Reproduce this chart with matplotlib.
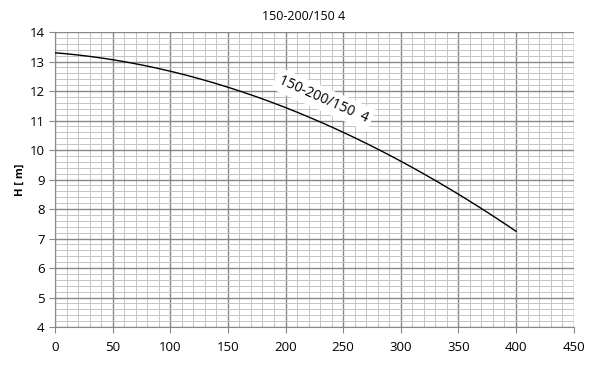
import numpy as np
import matplotlib.pyplot as plt
from matplotlib.ticker import MultipleLocator

# pump curve
q = [0, 50, 100, 150, 200, 250, 300, 350, 400]
h = [13.3, 13.05, 12.68, 12.12, 11.45, 10.6, 9.62, 8.5, 7.25]
title = "150-200/150 4"
curve_label = "150-200/150  4"

plt.rcParams['font.family'] = ['Open Sans', 'DejaVu Sans']

fig = plt.figure(figsize=(6.08, 3.7), dpi=100)
ax = fig.add_axes([0.0905, 0.116, 0.853, 0.7975])

qs = np.linspace(q[0], q[-1], 200)
coef = np.polyfit(q, h, 3)
ax.plot(qs, np.polyval(coef, qs), color='black', lw=1.0, zorder=3)

ax.set_xlim(0, 450)
ax.set_ylim(4, 14)
ax.xaxis.set_major_locator(MultipleLocator(50))
ax.xaxis.set_minor_locator(MultipleLocator(10))
ax.yaxis.set_major_locator(MultipleLocator(1))
ax.yaxis.set_minor_locator(MultipleLocator(0.2))
ax.grid(which='major', color='#888888', lw=1.0)
ax.grid(which='minor', color='#c4c4c4', lw=0.7)
ax.set_axisbelow(True)
for s in ['top', 'right']:
    ax.spines[s].set_visible(False)
for s in ['left', 'bottom']:
    ax.spines[s].set_color('#888888')
ax.tick_params(which='major', length=4, color='#888888', labelsize=9.5)
ax.tick_params(which='minor', length=0)
ax.tick_params(axis='x', pad=6)

ax.set_ylabel("H [ m]", fontsize=8, fontweight='bold', labelpad=3)
fig.text(0.5, 0.955, title, ha='center', va='center', fontsize=9)

ax.text(233, 11.72, curve_label, rotation=-24, fontsize=10, ha='center', va='center',
        bbox=dict(facecolor='white', edgecolor='none', pad=3), zorder=4)

fig.savefig("out.png", dpi=100)
